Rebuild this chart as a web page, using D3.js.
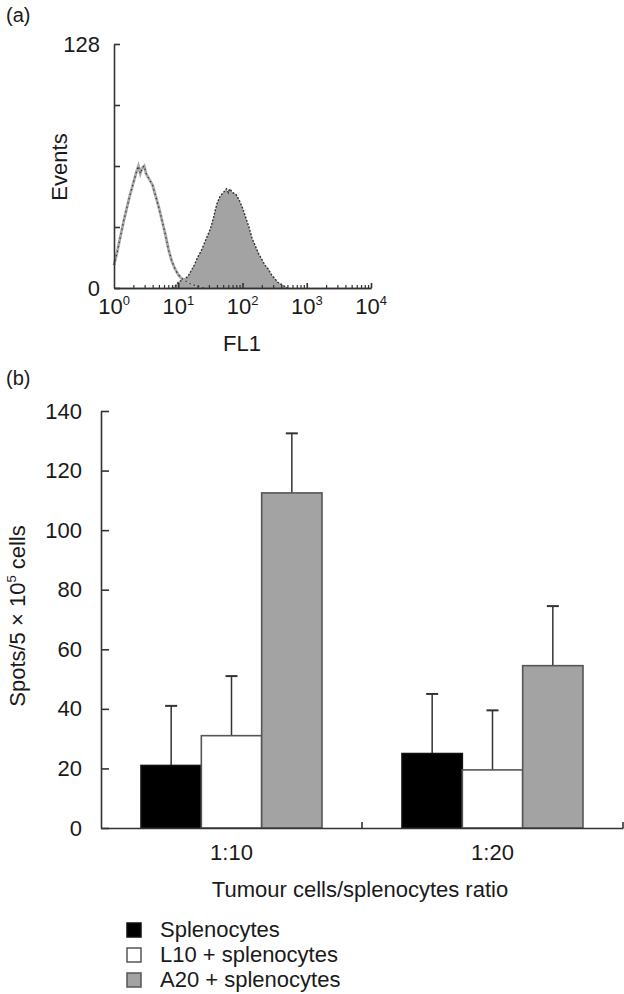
<!DOCTYPE html>
<html><head><meta charset="utf-8">
<script src="https://cdn.jsdelivr.net/npm/d3@7"></script>
<style>
body{margin:0;background:#fff}
svg{display:block}
text{font-family:"Liberation Sans",Arial,Helvetica,sans-serif;fill:#1a1a1a}
</style>
</head><body>
<svg id="c" width="624" height="994"></svg>
<script>
// ---------- Panel (a): flow cytometry histogram ----------
const openLogFL1 = [0.00,0.05,0.10,0.15,0.20,0.25,0.30,0.35,0.38,0.41,0.44,0.47,0.50,0.55,0.60,0.65,0.70,0.75,0.80,0.85,0.90,0.95,1.00,1.05,1.10,1.15,1.20,1.30,1.40];
const openCounts = [12,19,27,35,42,49,55,61,64,60,63,64,60,57,54,48,42,35,28,20,14,10,7,5,4,3,2,1,0];
const filledLogFL1 = [0.90,0.95,1.00,1.05,1.10,1.15,1.20,1.25,1.30,1.35,1.40,1.45,1.50,1.55,1.60,1.65,1.70,1.75,1.78,1.80,1.85,1.90,1.95,2.00,2.05,2.10,2.15,2.20,2.25,2.30,2.35,2.40,2.45,2.50,2.55,2.60,2.65,2.70];
const filledCounts = [0,1,3,4,5,6,9,12,16,19,23,27,31,37,44,48,50,52,50,52,50,49,46,42,37,32,26,22,18,15,12,10,7,5,3,2,1,0];
const eventTicks = [0,32,64,96,128];
const decadeTicks = [1,10,100,1000,10000];
const decadeExps = ["0","1","2","3","4"];

// ---------- Panel (b): ELISPOT bar chart ----------
const ratios = ["1:10","1:20"];
const seriesNames = ["Splenocytes","L10 + splenocytes","A20 + splenocytes"];
const seriesFill = ["#000000","#ffffff","#a3a3a3"];
const seriesStroke = ["#111111","#555555","#555555"];
const splenocytes = [21,25];
const l10Splenocytes = [31,19.5];
const a20Splenocytes = [112.5,54.5];
const splenocytesErr = [20,20];
const l10SplenocytesErr = [20,20];
const a20SplenocytesErr = [20,20];
const spotTicks = [0,20,40,60,80,100,120,140];

const svg = d3.select("#c");
const FS = 22;

// Panel labels
svg.append("text").attr("x",6).attr("y",22).style("font-size","20px").text("(a)");
svg.append("text").attr("x",6).attr("y",385).style("font-size","20px").text("(b)");

// ===== Panel a =====
const xA = d3.scaleLog().domain([1,10000]).range([114,371]);
const yA = d3.scaleLinear().domain([0,128]).range([288,44]);
const gA = svg.append("g");

const area = d3.area().x(d=>xA(Math.pow(10,d[0]))).y0(yA(0)).y1(d=>yA(d[1]));
const line = d3.line().x(d=>xA(Math.pow(10,d[0]))).y(d=>yA(d[1]));
const filledData = filledLogFL1.map((v,i)=>[v,filledCounts[i]]);
const openData = openLogFL1.map((v,i)=>[v,openCounts[i]]);

gA.append("path").datum(filledData).attr("d",area).attr("fill","#a3a3a3").attr("stroke","none");
gA.append("path").datum(filledData).attr("d",line).attr("fill","none").attr("stroke","#333").attr("stroke-width",1.4).attr("stroke-dasharray","2,1.5");
gA.append("path").datum(openData).attr("d",line).attr("fill","none").attr("stroke","#aaa").attr("stroke-width",2.8);
gA.append("path").datum(openData).attr("d",line).attr("fill","none").attr("stroke","#333").attr("stroke-width",1.2).attr("stroke-dasharray","1.5,3");

// y axis a
const yAxisA = d3.axisLeft(yA).tickValues(eventTicks).tickSize(-6).tickSizeOuter(0).tickPadding(14)
  .tickFormat(d => (d===0||d===128)? String(d) : "");
const gyA = gA.append("g").attr("transform","translate(114,0)").call(yAxisA);
// x axis a (minor ticks upward)
const minor = [];
[1,10,100,1000].forEach(dec=>{for(let k=2;k<=9;k++) minor.push(dec*k);});
const xAxisA = d3.axisBottom(xA).tickValues(minor).tickSize(-3).tickSizeOuter(0).tickFormat("");
const gxA = gA.append("g").attr("transform","translate(0,288)").call(xAxisA);
const xAxisA2 = d3.axisBottom(xA).tickValues(decadeTicks.slice(1)).tickSize(-5).tickSizeOuter(0).tickFormat("");
const gxA2 = gA.append("g").attr("transform","translate(0,288)").call(xAxisA2);
[gyA,gxA,gxA2].forEach(g=>{
  g.selectAll("path,line").attr("stroke","#333").attr("stroke-width",1.6);
  g.selectAll("text").style("font-size",FS+"px").attr("fill","#1a1a1a").style("font-family",null);
});
gxA.selectAll("line").attr("stroke-width",1.2);
// decade labels
const dl = gA.append("g").selectAll("text").data(decadeTicks).join("text")
  .attr("x",d=>xA(d)).attr("y",314).attr("text-anchor","middle").style("font-size",FS+"px");
dl.append("tspan").text("10");
dl.append("tspan").attr("dy",-9).style("font-size","13px").text((d,i)=>decadeExps[i]);
svg.append("text").attr("x",242).attr("y",351).attr("text-anchor","middle").style("font-size",FS+"px").text("FL1");
svg.append("text").attr("transform","translate(67,167) rotate(-90)").attr("text-anchor","middle").style("font-size",FS+"px").text("Events");

// ===== Panel b =====
const yB = d3.scaleLinear().domain([0,140]).range([828,411]);
const xB = d3.scaleBand().domain(ratios).range([101,623]).paddingInner(0).paddingOuter(0);
const xS = d3.scaleBand().domain(seriesNames).range([40,221]).padding(0);
const gB = svg.append("g");

const values = [splenocytes,l10Splenocytes,a20Splenocytes];
const errs = [splenocytesErr,l10SplenocytesErr,a20SplenocytesErr];
const barData = [];
ratios.forEach((r,ri)=>seriesNames.forEach((s,si)=>barData.push({r,s,si,v:values[si][ri],e:errs[si][ri]})));

// error bars (drawn first so bar outline sits on top)
const eb = gB.append("g");
barData.forEach(d=>{
  const cx = xB(d.r)+xS(d.s)+xS.bandwidth()/2;
  eb.append("line").attr("x1",cx).attr("x2",cx).attr("y1",yB(d.v)).attr("y2",yB(d.v+d.e)).attr("stroke","#333").attr("stroke-width",1.5);
  eb.append("line").attr("x1",cx-6).attr("x2",cx+6).attr("y1",yB(d.v+d.e)).attr("y2",yB(d.v+d.e)).attr("stroke","#333").attr("stroke-width",2);
});
gB.append("g").selectAll("rect").data(barData).join("rect")
  .attr("x",d=>xB(d.r)+xS(d.s)).attr("width",xS.bandwidth())
  .attr("y",d=>yB(d.v)).attr("height",d=>yB(0)-yB(d.v))
  .attr("fill",d=>seriesFill[d.si]).attr("stroke",d=>seriesStroke[d.si]).attr("stroke-width",1.6);

const yAxisB = d3.axisLeft(yB).tickValues(spotTicks).tickSize(-8).tickSizeOuter(0).tickPadding(19);
const gyB = gB.append("g").attr("transform","translate(101,0)").call(yAxisB);
const xAxisB = d3.axisBottom(xB).tickSize(0).tickSizeOuter(0).tickPadding(16);
const gxB = gB.append("g").attr("transform","translate(0,828)").call(xAxisB);
// boundary ticks between groups
gB.append("g").selectAll("line").data(ratios).join("line")
  .attr("x1",d=>xB(d)+xB.bandwidth()).attr("x2",d=>xB(d)+xB.bandwidth())
  .attr("y1",828).attr("y2",822).attr("stroke","#333").attr("stroke-width",1.6);
[gyB,gxB].forEach(g=>{
  g.selectAll("path,line").attr("stroke","#333").attr("stroke-width",1.6);
  g.selectAll("text").style("font-size",FS+"px").attr("fill","#1a1a1a").style("font-family",null);
});
svg.append("text").attr("x",360).attr("y",897).attr("text-anchor","middle").style("font-size",FS+"px").text("Tumour cells/splenocytes ratio");
const yl = svg.append("text").attr("transform","translate(25,616) rotate(-90)").attr("text-anchor","middle").style("font-size",FS+"px");
yl.append("tspan").text("Spots/5 \u00d7 10");
yl.append("tspan").attr("dy",-9).style("font-size","13px").text("5");
yl.append("tspan").attr("dy",9).text(" cells");

// legend
const lg = svg.append("g").selectAll("g").data(seriesNames).join("g")
  .attr("transform",(d,i)=>`translate(127,${923+i*25})`);
lg.append("rect").attr("width",14).attr("height",14)
  .attr("fill",(d,i)=>seriesFill[i]).attr("stroke",(d,i)=>seriesStroke[i]).attr("stroke-width",1.5);
lg.append("text").attr("x",33).attr("y",14).style("font-size",FS+"px").text(d=>d);
</script>
</body></html>
